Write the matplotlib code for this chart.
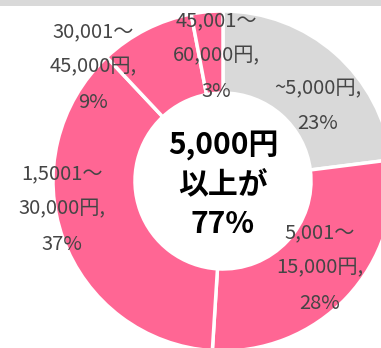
import matplotlib
matplotlib.use("Agg")
import matplotlib.pyplot as plt
from matplotlib.patches import Rectangle

plt.rcParams['font.family'] = ['Noto Sans CJK JP', 'DejaVu Sans']

# Spending brackets, clockwise from 12 o'clock
categories = ["~5,000円", "5,001〜\n15,000円", "1,5001〜\n30,000円",
              "30,001〜\n45,000円", "45,001〜\n60,000円"]
shares = [23, 28, 37, 9, 3]
center_lines = ["5,000円", "以上が", "77%"]

colors = ["#D9D9D9", "#FF6694", "#FF6694", "#FF6694", "#FF6694"]

W, H = 381, 348
fig = plt.figure(figsize=(W / 100, H / 100), dpi=100)
ax = fig.add_axes([0, 0, 1, 1])

cx, cy = 223, H - 181
r_out, r_in = 170, 88

ax.pie(shares, colors=colors, startangle=90, counterclock=False,
       radius=r_out, center=(cx, cy), frame=True,
       wedgeprops=dict(width=r_out - r_in, edgecolor="white", linewidth=2.5))

# Label anchor points (pixel layout, y measured from the top)
label_xy = [(318, 106), (320, 268), (62, 209), (93, 67), (216, 56)]
for cat, val, (lx, ly) in zip(categories, shares, label_xy):
    ax.text(lx, H - ly, f"{cat},\n{val}%", ha="center", va="center",
            fontsize=14.5, color="#454545", linespacing=1.9)

ax.text(cx, H - 185, "\n".join(center_lines), ha="center", va="center",
        fontsize=21.5, fontweight="bold", color="black", linespacing=1.38)

# grey strip along the top edge
ax.add_patch(Rectangle((0, H - 6), W, 6, facecolor="#D9D9D9", edgecolor="none",
                       zorder=5))

ax.set_xlim(0, W)
ax.set_ylim(0, H)
ax.set_aspect("equal")
ax.axis("off")

fig.savefig("out.png", dpi=100)
